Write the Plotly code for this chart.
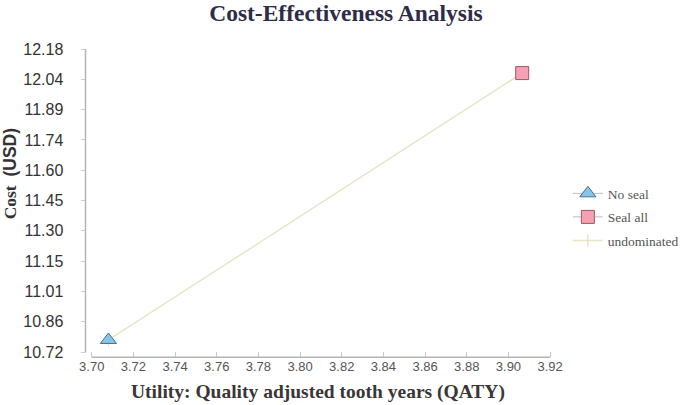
import plotly.graph_objects as go

# Data
strategies = ['No seal', 'Seal all']
utility = [3.708, 3.9066]   # QATY
cost = [10.778, 12.064]     # USD

y_ticks = [10.72, 10.866, 11.012, 11.158, 11.304, 11.45, 11.596, 11.742, 11.888, 12.034, 12.18]
y_tick_text = ['10.72', '10.86', '11.01', '11.15', '11.30', '11.45', '11.60', '11.74', '11.89', '12.04', '12.18']
x_ticks = [3.70, 3.72, 3.74, 3.76, 3.78, 3.80, 3.82, 3.84, 3.86, 3.88, 3.90, 3.92]

fig = go.Figure()

# Linea de estrategias no dominadas
fig.add_trace(go.Scatter(
    x=utility, y=cost,
    mode='lines+markers',
    name='undominated',
    legendrank=3, legendgroup='c',
    line=dict(color='#e9e5c8', width=1.5),
    marker=dict(symbol='line-ns-open', size=9, color='#e0dcb8', line=dict(width=1, color='#e0dcb8')),
))

fig.add_trace(go.Scatter(
    x=[utility[0]], y=[cost[0]],
    mode='lines+markers',
    name=strategies[0],
    legendrank=1, legendgroup='a',
    line=dict(color='#b8bcc4', width=1),
    marker=dict(symbol='triangle-up', size=14, color='#85c6e8',
                line=dict(color='#4d6f88', width=1)),
))

fig.add_trace(go.Scatter(
    x=[utility[1]], y=[cost[1]],
    mode='lines+markers',
    name=strategies[1],
    legendrank=2, legendgroup='b',
    line=dict(color='#b8bcc4', width=1),
    marker=dict(symbol='square', size=13, color='#f7a0b2',
                line=dict(color='#9a5a66', width=1)),
))

fig.update_layout(
    width=685, height=405,
    paper_bgcolor='white',
    plot_bgcolor='white',
    margin=dict(l=80, r=130, t=45, b=45),
    title=dict(
        text='<b>Cost-Effectiveness Analysis</b>',
        x=0.505, xanchor='center', yref='container', y=0.969, yanchor='middle',
        font=dict(family='Liberation Serif', size=23.5, color='#2e2c48'),
    ),
    legend=dict(
        xref='container', yref='container',
        x=0.829, y=0.464, xanchor='left', yanchor='middle',
        font=dict(family='Liberation Serif', size=13.5, color='#555555'),
        itemwidth=30,
        tracegroupgap=3,
    ),
    xaxis=dict(
        range=[3.69436, 3.92235],
        tickvals=x_ticks,
        tickformat='.2f',
        showgrid=False, zeroline=False, showline=False,
        ticks='inside', ticklen=5, tickcolor='#c8c8c8',
        anchor='free', position=0.0086,
        automargin=False,
        tickfont=dict(family='Liberation Sans', size=13, color='#555555'),
    ),
    yaxis=dict(
        range=[10.6815, 12.1993],
        tickvals=y_ticks,
        ticktext=y_tick_text,
        showgrid=False, zeroline=False, showline=False,
        ticks='outside', ticklen=5, tickcolor='#d0d0d0',
        anchor='free', position=0.0116,
        automargin=False,
        ticklabelstandoff=14,
        tickfont=dict(family='Liberation Sans', size=16, color='#333333'),
    ),
    shapes=[
        # eje Y
        dict(type='line', xref='paper', yref='y', x0=0.0116, x1=0.0116, y0=10.72, y1=12.18,
             line=dict(color='#b4b4b4', width=1.5)),
        # eje X
        dict(type='line', xref='x', yref='paper', x0=3.70, x1=3.92, y0=0.0086, y1=0.0086,
             line=dict(color='#b4b4b4', width=1.5)),
    ],
    annotations=[
        dict(text='<b>Utility: Quality adjusted tooth years (QATY)</b>',
             xref='paper', yref='paper', x=0.501, y=-0.1016,
             xanchor='center', yanchor='middle', showarrow=False,
             font=dict(family='Liberation Serif', size=19.5, color='#3a3636')),
        dict(text="<b>Cost  <span style='font-family:Liberation Sans'>(USD)</span></b>",
             xref='paper', yref='paper', x=-0.147, y=0.59, textangle=-90,
             xanchor='center', yanchor='middle', showarrow=False,
             font=dict(family='Liberation Serif', size=17.5, color='#333333')),
    ],
)

# quitar el margen del body para que la figura quede en (0, 0)
fig.write_html('out.html', config={'displayModeBar': False},
               post_script="document.body.style.margin='0px';")
